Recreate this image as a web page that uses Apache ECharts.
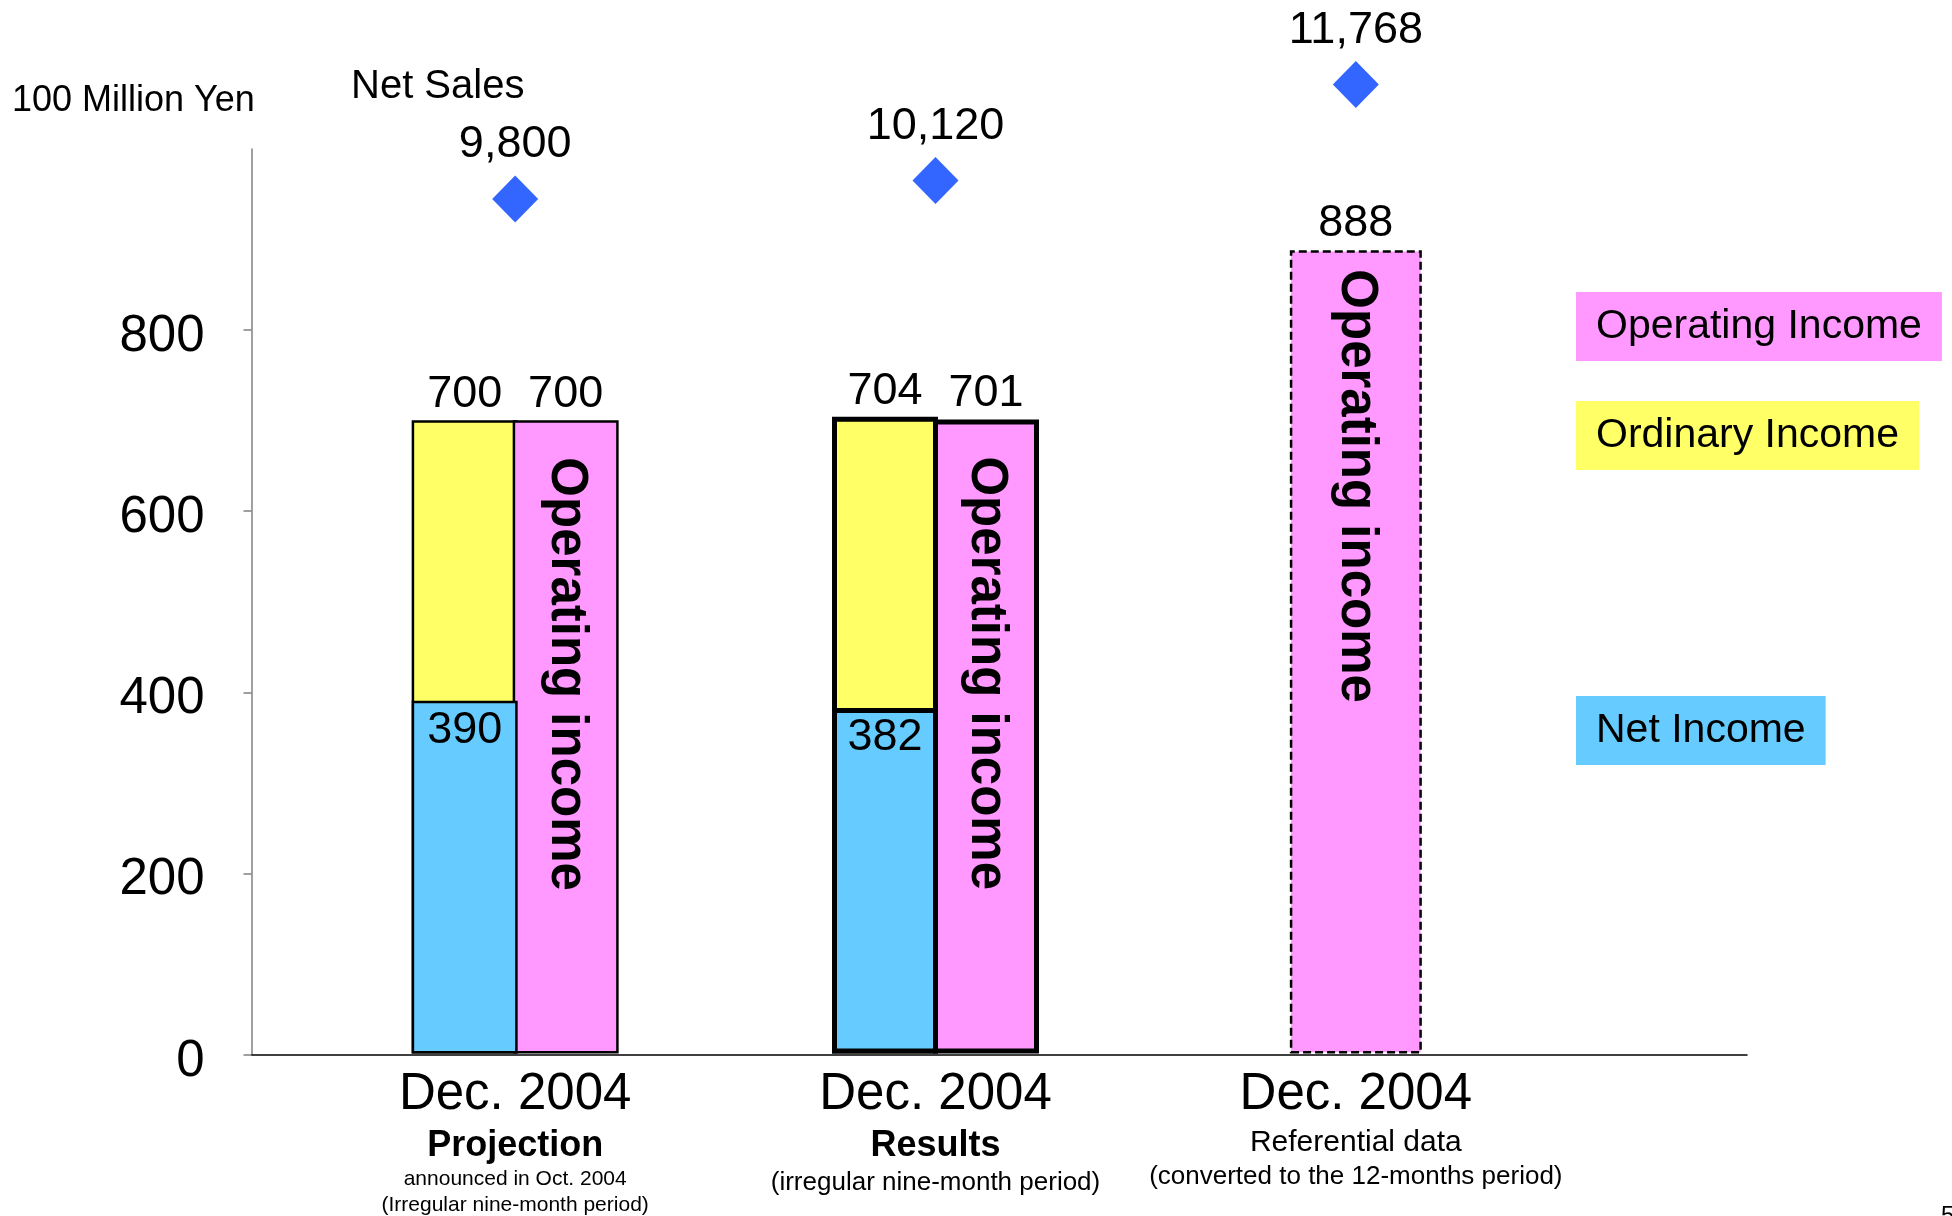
<!DOCTYPE html>
<html><head><meta charset="utf-8">
<script src="https://cdn.jsdelivr.net/npm/echarts@6/dist/echarts.min.js"></script>
<style>html,body{margin:0;padding:0;background:#fff}#c{width:1952px;height:1216px}</style>
</head><body><div id="c"></div>
<script>
// ---- data ----
const periods = ['Projection', 'Results', 'Referential data'];
const periodDates = ['Dec. 2004', 'Dec. 2004', 'Dec. 2004'];
const periodNotes = [
  ['announced in Oct. 2004', '(Irregular nine-month period)'],
  ['(irregular nine-month period)'],
  ['(converted to the 12-months period)']
];
const netSales = [9800, 10120, 11768];
const netIncome = [390, 382, null];
const ordinaryIncome = [700, 704, null];
const operatingIncome9 = [700, 701, null];
const operatingIncome12 = [null, null, 888];
const yTicks = [0, 200, 400, 600, 800];
const legendNames = ['Operating Income', 'Ordinary Income', 'Net Income'];

// ---- styles ----
const FONT = 'Liberation Sans, Arial, sans-serif';
const PINK = '#ff99ff', YELLOW = '#ffff66', BLUE = '#66ccff', DIAMOND = '#3366ff';
const groupBorder = [2.5, 5, 2.5];
const BW = 106, GAP = '-4.72%';
const titleStyle = ['pb', 'pb', 'pr'];
const noteStyle = ['n1', 'n2', 'n3'];

const withBorder = arr => arr.map((v, i) => v == null ? null : ({ value: v, itemStyle: { borderWidth: groupBorder[i] } }));
const capOf = arr => arr.map(v => v == null ? null : 0);
const emptyOf = arr => arr.map(() => null);

const chart = echarts.init(document.getElementById('c'));
chart.setOption({
  animation: false,
  backgroundColor: '#fff',
  textStyle: { fontFamily: FONT, color: '#000' },
  title: [
    { text: '100 Million Yen', left: 12, top: 83, padding: 0, textStyle: { fontFamily: FONT, fontSize: 36, fontWeight: 'normal', color: '#000' } },
    { text: 'Net Sales', left: 351, top: 67, padding: 0, textStyle: { fontFamily: FONT, fontSize: 40, fontWeight: 'normal', color: '#000' } },
    { text: '5', left: 1941, top: 1204, padding: 0, textStyle: { fontFamily: FONT, fontSize: 24, fontWeight: 'normal', color: '#000' } }
  ],
  legend: legendNames.map((name, i) => ({
    data: [name],
    selectedMode: false,
    left: 1571,
    top: [292, 401, 696][i],
    padding: 0,
    itemWidth: 0,
    itemHeight: 0,
    textStyle: {
      fontFamily: FONT, fontSize: 41, lineHeight: 45, color: '#000',
      backgroundColor: [PINK, YELLOW, BLUE][i],
      padding: [12, 20, 12, 20]
    }
  })),
  grid: [
    { left: 305, right: 386, top: 149, bottom: 161.5 },
    { left: 251.5, right: 205, top: 149, bottom: 161.5 }
  ],
  xAxis: [
    {
      gridIndex: 0, type: 'category', data: periods,
      axisLine: { show: false }, axisTick: { show: false },
      axisLabel: {
        interval: 0, margin: 9, color: '#000', fontFamily: FONT,
        formatter: (v) => {
          const i = periods.indexOf(v);
          const lines = ['{d|' + periodDates[i] + '}', '{' + titleStyle[i] + '|' + v + '}'];
          periodNotes[i].forEach(n => lines.push('{' + noteStyle[i] + '|' + n + '}'));
          return lines.join('\n');
        },
        rich: {
          d: { fontFamily: FONT, fontSize: 51, lineHeight: 64, color: '#000' },
          pb: { fontFamily: FONT, fontSize: 36, fontWeight: 'bold', lineHeight: 40, color: '#000' },
          pr: { fontFamily: FONT, fontSize: 30, lineHeight: 32, color: '#000' },
          n1: { fontFamily: FONT, fontSize: 21, lineHeight: 26, color: '#000' },
          n2: { fontFamily: FONT, fontSize: 26, lineHeight: 32, color: '#000' },
          n3: { fontFamily: FONT, fontSize: 26, lineHeight: 36, color: '#000' }
        }
      }
    },
    { gridIndex: 0, type: 'category', data: periods, show: false },
    {
      gridIndex: 1, type: 'value', min: 0, max: 1,
      axisLine: { show: true, onZero: false, lineStyle: { color: '#000', width: 1.5 } },
      axisTick: { show: false }, axisLabel: { show: false }, splitLine: { show: false }
    },
    { gridIndex: 0, type: 'category', data: periods, show: false }
  ],
  yAxis: [
    {
      gridIndex: 1, type: 'value', min: 0, max: 1000, interval: 200,
      axisLine: { show: true, lineStyle: { color: '#808080', width: 1.5 } },
      axisTick: { show: true, length: 8, customValues: yTicks, lineStyle: { color: '#808080', width: 1.5 } },
      axisLabel: { customValues: yTicks, fontSize: 51, margin: 47, color: '#000', fontFamily: FONT,
        verticalAlign: 'top', lineHeight: 14 },
      splitLine: { show: false }
    },
    { gridIndex: 0, type: 'value', min: 0, max: 1000, show: false },
    { gridIndex: 0, type: 'value', min: -4870, max: 10660, show: false }
  ],
  series: [
    {
      name: 'Ordinary Income', type: 'bar', xAxisIndex: 0, yAxisIndex: 1,
      barWidth: BW, barGap: GAP, data: withBorder(ordinaryIncome),
      itemStyle: { color: YELLOW, borderColor: '#000' },
      label: { show: true, position: 'top', distance: 3, fontSize: 45, color: '#000', fontFamily: FONT }
    },
    {
      name: 'Operating Income', type: 'bar', stack: 'op', xAxisIndex: 0, yAxisIndex: 1,
      barWidth: BW, barGap: GAP, data: withBorder(operatingIncome9),
      itemStyle: { color: PINK, borderColor: '#000' },
      label: { show: true, position: 'insideTop', distance: 37, rotate: -90, align: 'left', verticalAlign: 'middle',
        formatter: 'Operating income', fontSize: 51, fontWeight: 'bold', color: '#000', fontFamily: FONT }
    },
    {
      name: 'Operating Income value', type: 'bar', stack: 'op', xAxisIndex: 0, yAxisIndex: 1,
      barWidth: BW, barGap: GAP, data: capOf(operatingIncome9), silent: true,
      itemStyle: { color: 'rgba(0,0,0,0)', borderWidth: 0 },
      label: { show: true, position: 'top', distance: 3, fontSize: 45, color: '#000', fontFamily: FONT,
        formatter: p => operatingIncome9[p.dataIndex] }
    },
    {
      name: 'Net Income', type: 'bar', xAxisIndex: 3, yAxisIndex: 1,
      barWidth: BW, barGap: GAP, data: withBorder(netIncome),
      itemStyle: { color: BLUE, borderColor: '#000' },
      label: { show: true, position: 'insideTop', distance: 7, fontSize: 45, color: '#000', fontFamily: FONT }
    },
    {
      name: 'slot', type: 'bar', xAxisIndex: 3, yAxisIndex: 1,
      barWidth: BW, barGap: GAP, data: emptyOf(netIncome), silent: true
    },
    {
      name: 'Operating Income', type: 'bar', stack: 'ref', xAxisIndex: 1, yAxisIndex: 1,
      barWidth: 132, data: operatingIncome12,
      itemStyle: { color: PINK, borderColor: '#000', borderWidth: 2.5, borderType: [8, 4] },
      label: { show: true, position: 'insideTop', distance: 19, rotate: -90, align: 'left', verticalAlign: 'middle',
        formatter: 'Operating income', fontSize: 51, fontWeight: 'bold', color: '#000', fontFamily: FONT }
    },
    {
      name: 'Operating Income 12m value', type: 'bar', stack: 'ref', xAxisIndex: 1, yAxisIndex: 1,
      barWidth: 132, data: capOf(operatingIncome12), silent: true,
      itemStyle: { color: 'rgba(0,0,0,0)', borderWidth: 0 },
      label: { show: true, position: 'top', distance: 4, fontSize: 45, color: '#000', fontFamily: FONT,
        formatter: p => operatingIncome12[p.dataIndex] }
    },
    {
      name: 'Net Sales', type: 'scatter', xAxisIndex: 0, yAxisIndex: 2, data: netSales,
      symbol: 'diamond', symbolSize: [46, 47], clip: false, z: 5,
      itemStyle: { color: DIAMOND, opacity: 1 },
      label: { show: true, position: 'top', distance: 8, fontSize: 45, color: '#000', fontFamily: FONT,
        formatter: p => p.value.toLocaleString('en-US') }
    }
  ]
});
</script></body></html>
